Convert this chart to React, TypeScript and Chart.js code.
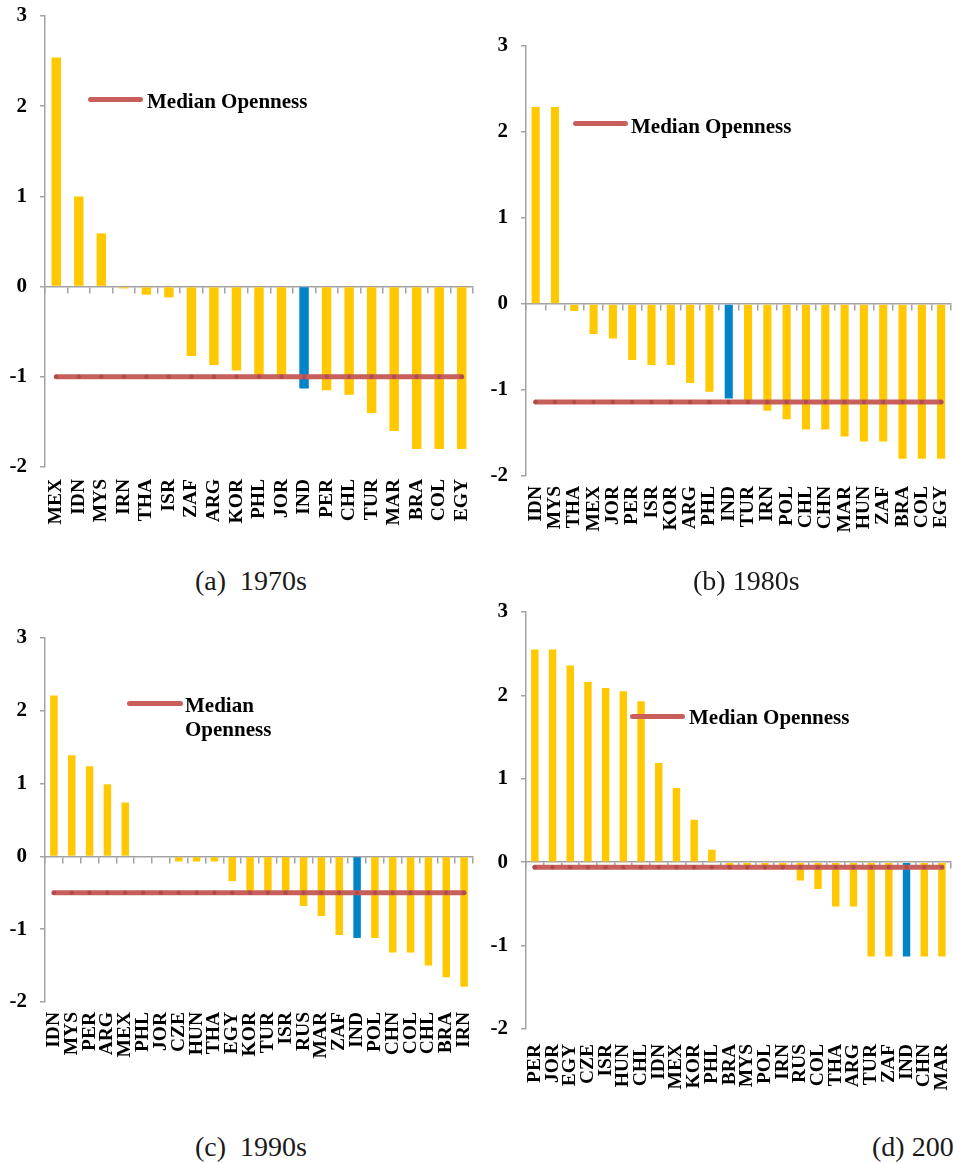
import React, { useEffect, useRef } from 'react';
import { Chart, registerables } from 'chart.js';

Chart.register(...registerables);

const SERIF = "'Liberation Serif', 'Times New Roman', serif";
const YELLOW = '#FFC800';
const BLUE = '#0083C9';
const RED = '#C85F5A';
const RED_DOT = '#AE4D49';
const AXIS = '#A3A3A3';

// ---------- data ----------
const labels1970 = ['MEX', 'IDN', 'MYS', 'IRN', 'THA', 'ISR', 'ZAF', 'ARG', 'KOR', 'PHL', 'JOR', 'IND', 'PER', 'CHL', 'TUR', 'MAR', 'BRA', 'COL', 'EGY'];
const values1970 = [2.54, 1.0, 0.59, -0.02, -0.09, -0.12, -0.77, -0.87, -0.93, -1.0, -1.02, -1.13, -1.15, -1.2, -1.4, -1.6, -1.8, -1.8, -1.8];
const median1970 = [-1, -1, -1, -1, -1, -1, -1, -1, -1, -1, -1, -1, -1, -1, -1, -1, -1, -1, -1];

const labels1980 = ['IDN', 'MYS', 'THA', 'MEX', 'JOR', 'PER', 'ISR', 'KOR', 'ARG', 'PHL', 'IND', 'TUR', 'IRN', 'POL', 'CHL', 'CHN', 'MAR', 'HUN', 'ZAF', 'BRA', 'COL', 'EGY'];
const values1980 = [2.29, 2.29, -0.08, -0.35, -0.4, -0.65, -0.71, -0.71, -0.92, -1.02, -1.1, -1.12, -1.24, -1.34, -1.46, -1.46, -1.54, -1.6, -1.6, -1.8, -1.8, -1.8];
const median1980 = [-1.14, -1.14, -1.14, -1.14, -1.14, -1.14, -1.14, -1.14, -1.14, -1.14, -1.14, -1.14, -1.14, -1.14, -1.14, -1.14, -1.14, -1.14, -1.14, -1.14, -1.14, -1.14];

const labels1990 = ['IDN', 'MYS', 'PER', 'ARG', 'MEX', 'PHL', 'JOR', 'CZE', 'HUN', 'THA', 'EGY', 'KOR', 'TUR', 'ISR', 'RUS', 'MAR', 'ZAF', 'IND', 'POL', 'CHN', 'COL', 'CHL', 'BRA', 'IRN'];
const values1990 = [2.21, 1.39, 1.24, 0.99, 0.74, 0.0, -0.01, -0.07, -0.07, -0.07, -0.34, -0.5, -0.5, -0.5, -0.68, -0.82, -1.08, -1.12, -1.12, -1.32, -1.32, -1.5, -1.66, -1.79];
const median1990 = [-0.5, -0.5, -0.5, -0.5, -0.5, -0.5, -0.5, -0.5, -0.5, -0.5, -0.5, -0.5, -0.5, -0.5, -0.5, -0.5, -0.5, -0.5, -0.5, -0.5, -0.5, -0.5, -0.5, -0.5];

const labels2000 = ['PER', 'JOR', 'EGY', 'CZE', 'ISR', 'HUN', 'CHL', 'IDN', 'MEX', 'KOR', 'PHL', 'BRA', 'MYS', 'POL', 'IRN', 'RUS', 'COL', 'THA', 'ARG', 'TUR', 'ZAF', 'IND', 'CHN', 'MAR'];
const values2000 = [2.55, 2.55, 2.36, 2.16, 2.09, 2.05, 1.93, 1.19, 0.89, 0.51, 0.15, -0.05, -0.05, -0.05, -0.05, -0.22, -0.32, -0.53, -0.53, -1.13, -1.13, -1.13, -1.13, -1.13];
const median2000 = [-0.06, -0.06, -0.06, -0.06, -0.06, -0.06, -0.06, -0.06, -0.06, -0.06, -0.06, -0.06, -0.06, -0.06, -0.06, -0.06, -0.06, -0.06, -0.06, -0.06, -0.06, -0.06, -0.06, -0.06];

const yMin = -2;
const yMax = 3;
const highlight = 'IND';
const legendText = 'Median Openness';

type Geo = {
  left: number; top: number; w: number; h: number;
  cl: number; cr: number; ct: number; cb: number; labelPad: number;
};

function Panel({ labels, values, median, geo }: { labels: string[]; values: number[]; median: number[]; geo: Geo }) {
  const ref = useRef<HTMLCanvasElement | null>(null);
  useEffect(() => {
    const canvas = ref.current;
    if (!canvas) return;
    const yWidth = geo.cl - geo.left;
    const padTop = geo.ct - geo.top;
    const padRight = geo.left + geo.w - geo.cr;
    const xHeight = geo.top + geo.h - geo.cb;
    const colors = labels.map((l) => (l === highlight ? BLUE : YELLOW));
    const tickFont = { family: SERIF, size: 21, weight: 'bold' as const };
    const catFont = { family: SERIF, size: 19.5, weight: 'bold' as const };
    const chart = new Chart(canvas, {
      type: 'bar',
      data: {
        labels,
        datasets: [
          {
            type: 'line',
            label: legendText,
            data: median,
            borderColor: RED,
            borderWidth: 5,
            borderCapStyle: 'round',
            pointRadius: 2.2,
            pointBackgroundColor: RED_DOT,
            pointBorderWidth: 0,
            pointHoverRadius: 0,
            fill: false,
            tension: 0,
            order: 1,
            xAxisID: 'x',
            yAxisID: 'y',
          } as any,
          {
            type: 'bar',
            label: 'Openness',
            data: values,
            backgroundColor: colors,
            borderWidth: 0,
            barPercentage: 0.42,
            categoryPercentage: 1,
            order: 2,
            xAxisID: 'x',
            yAxisID: 'y',
          } as any,
        ],
      },
      options: {
        animation: false,
        responsive: false,
        events: [],
        layout: { padding: { top: padTop, right: padRight, left: 0, bottom: 0 } },
        plugins: { legend: { display: false }, tooltip: { enabled: false } },
        scales: {
          x: {
            type: 'category',
            position: 'bottom',
            offset: true,
            grid: { display: false, drawTicks: false },
            border: { display: false },
            ticks: {
              autoSkip: false,
              minRotation: 90,
              maxRotation: 90,
              padding: geo.labelPad,
              color: '#000',
              font: catFont,
            },
            afterFit: (s: any) => {
              s.height = xHeight;
              s.paddingLeft = 0;
              s.paddingRight = 0;
            },
          },
          x2: {
            type: 'category',
            axis: 'x',
            position: { y: 0 },
            offset: true,
            grid: {
              display: true,
              offset: true,
              drawOnChartArea: false,
              drawTicks: true,
              tickLength: 6,
              color: AXIS,
              lineWidth: 1.5,
            },
            border: { display: true, color: AXIS, width: 1.5 },
            ticks: { display: false, autoSkip: false },
            afterFit: (s: any) => {
              s.paddingLeft = 0;
              s.paddingRight = 0;
            },
          },
          y: {
            min: yMin,
            max: yMax,
            ticks: { stepSize: 1, padding: 13, color: '#000', font: tickFont },
            grid: {
              display: true,
              drawOnChartArea: false,
              drawTicks: true,
              tickLength: 5,
              color: AXIS,
              lineWidth: 1.5,
            },
            border: { display: true, color: AXIS, width: 1.5 },
            afterFit: (s: any) => {
              s.width = yWidth;
              s.paddingTop = 0;
              s.paddingBottom = 0;
            },
          },
        } as any,
      },
    });
    return () => chart.destroy();
  }, [labels, values, median, geo]);
  return (
    <canvas
      ref={ref}
      width={geo.w}
      height={geo.h}
      style={{ position: 'absolute', left: geo.left, top: geo.top, width: geo.w, height: geo.h }}
    />
  );
}

function Legend({ x1, x2, y, tx, ty, twoLines }: { x1: number; x2: number; y: number; tx: number; ty: number; twoLines?: boolean }) {
  return (
    <>
      <div
        style={{
          position: 'absolute',
          left: x1,
          top: y - 2.5,
          width: x2 - x1,
          height: 5,
          borderRadius: 2.5,
          background: RED,
        }}
      />
      <div
        style={{
          position: 'absolute',
          left: tx,
          top: ty,
          fontFamily: SERIF,
          fontWeight: 'bold',
          fontSize: 21,
          lineHeight: '24px',
          color: '#000',
          whiteSpace: 'pre',
        }}
      >
        {twoLines ? 'Median\nOpenness' : legendText}
      </div>
    </>
  );
}

function Caption({ x, y, text }: { x: number; y: number; text: string }) {
  return (
    <div
      style={{
        position: 'absolute',
        left: x,
        top: y,
        fontFamily: SERIF,
        fontSize: 28,
        lineHeight: '32px',
        color: '#1a1a1a',
        whiteSpace: 'pre',
      }}
    >
      {text}
    </div>
  );
}

const geoA: Geo = { left: 0, top: 0, w: 480, h: 560, cl: 45, cr: 473, ct: 16, cb: 467, labelPad: 12 };
const geoB: Geo = { left: 480, top: 0, w: 473, h: 560, cl: 526, cr: 953, ct: 46, cb: 476, labelPad: 10 };
const geoC: Geo = { left: 0, top: 600, w: 480, h: 490, cl: 45, cr: 473, ct: 638, cb: 1002, labelPad: 10 };
const geoD: Geo = { left: 480, top: 590, w: 473, h: 515, cl: 526, cr: 952, ct: 612, cb: 1029, labelPad: 15 };

export default function App() {
  return (
    <div
      style={{
        position: 'absolute',
        left: 0,
        top: 0,
        width: 953,
        height: 1163,
        overflow: 'hidden',
        background: '#fff',
      }}
    >
      <Panel labels={labels1970} values={values1970} median={median1970} geo={geoA} />
      <Panel labels={labels1980} values={values1980} median={median1980} geo={geoB} />
      <Panel labels={labels1990} values={values1990} median={median1990} geo={geoC} />
      <Panel labels={labels2000} values={values2000} median={median2000} geo={geoD} />
      <Legend x1={88} x2={143} y={99} tx={147} ty={89} />
      <Legend x1={573} x2={628} y={123} tx={631} ty={114} />
      <Legend x1={127} x2={183} y={703} tx={185} ty={693} twoLines />
      <Legend x1={630} x2={685} y={716} tx={689} ty={705} />
      <Caption x={195} y={565} text={'(a)  1970s'} />
      <Caption x={693} y={565} text={'(b) 1980s'} />
      <Caption x={195} y={1131} text={'(c)  1990s'} />
      <Caption x={872} y={1131} text={'(d) 2000s'} />
    </div>
  );
}
